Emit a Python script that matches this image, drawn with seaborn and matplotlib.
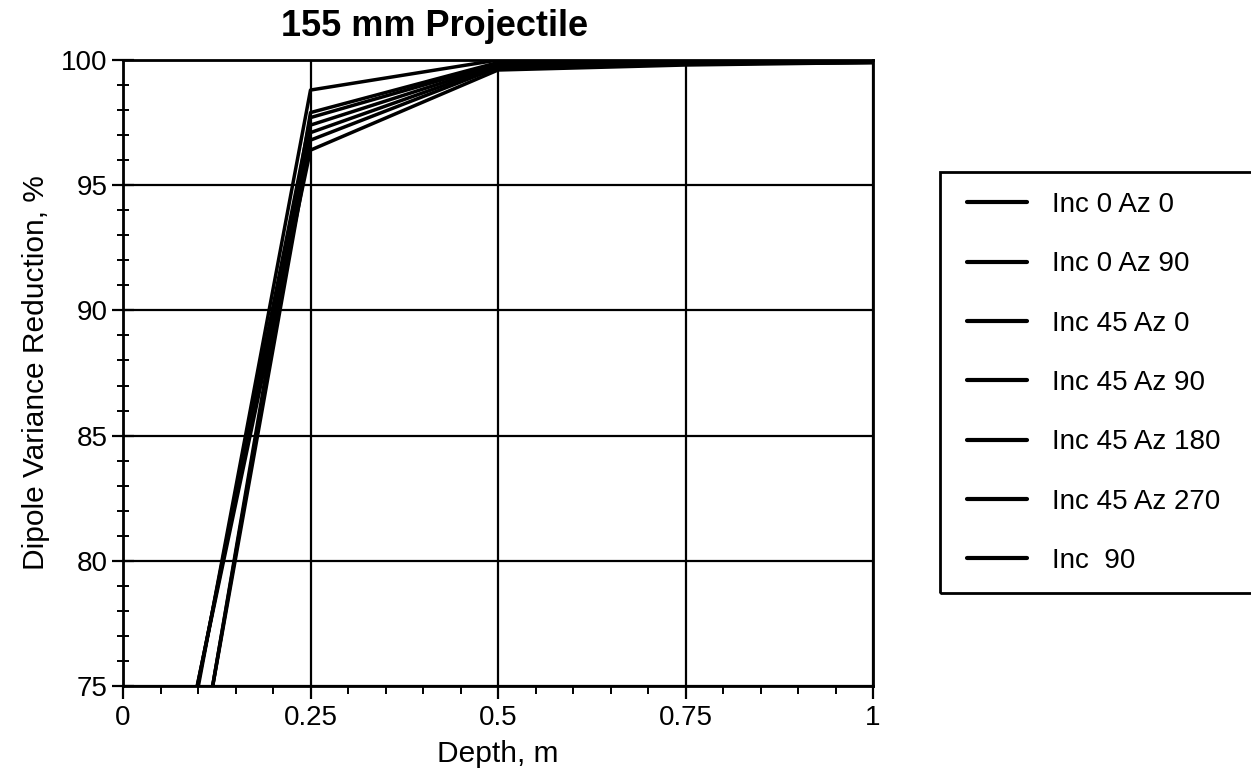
import matplotlib
matplotlib.use("Agg")
import matplotlib.pyplot as plt
import seaborn as sns
import pandas as pd
from matplotlib.patches import Rectangle
from matplotlib.ticker import MultipleLocator

# Depth samples (m) and dipole variance reduction (%) for each orientation
depth = [0.0, 0.25, 0.5, 0.75, 1.0]
series_names = ["Inc 0 Az 0", "Inc 0 Az 90", "Inc 45 Az 0", "Inc 45 Az 90",
                "Inc 45 Az 180", "Inc 45 Az 270", "Inc  90"]
inc0_az0 = [60.0, 97.7, 99.85, 99.9, 99.95]
inc0_az90 = [54.0, 97.9, 99.9, 99.95, 100.0]
inc45_az0 = [60.5, 97.1, 99.75, 99.85, 99.9]
inc45_az90 = [54.5, 97.4, 99.8, 99.9, 99.95]
inc45_az180 = [61.0, 96.4, 99.6, 99.8, 99.9]
inc45_az270 = [55.0, 96.8, 99.7, 99.85, 99.9]
inc90 = [59.0, 98.8, 100.0, 100.0, 100.0]

values = [inc0_az0, inc0_az90, inc45_az0, inc45_az90,
          inc45_az180, inc45_az270, inc90]

frames = [pd.DataFrame({"Depth": depth, "Reduction": v, "Orientation": n})
          for n, v in zip(series_names, values)]
df = pd.concat(frames, ignore_index=True)

sns.set_theme(style="white")
plt.rcParams["font.family"] = ["Liberation Sans", "DejaVu Sans"]
plt.rcParams["text.color"] = "black"
plt.rcParams["axes.labelcolor"] = "black"
plt.rcParams["xtick.color"] = "black"
plt.rcParams["ytick.color"] = "black"

fig = plt.figure(figsize=(12.51, 7.72), dpi=100)
ax = fig.add_axes([123 / 1251, 1 - 686 / 772, 750 / 1251, 626 / 772])

sns.lineplot(data=df, x="Depth", y="Reduction", hue="Orientation",
             hue_order=series_names, palette=["black"] * len(series_names),
             linewidth=2.5, ax=ax, sort=False, estimator=None)

ax.set_xlim(0, 1)
ax.set_ylim(75, 100)
ax.xaxis.set_major_locator(MultipleLocator(0.25))
ax.xaxis.set_minor_locator(MultipleLocator(0.05))
ax.yaxis.set_major_locator(MultipleLocator(5))
ax.yaxis.set_minor_locator(MultipleLocator(1))
ax.set_xticks([0, 0.25, 0.5, 0.75, 1.0])
ax.set_xticklabels(["0", "0.25", "0.5", "0.75", "1"])

ax.grid(True, which="major", color="black", linewidth=1.6)
for sp in ax.spines.values():
    sp.set_color("black")
    sp.set_linewidth(2)

ax.tick_params(axis="x", which="major", direction="out", length=9, width=1.6,
               labelsize=20, pad=5, bottom=True)
ax.tick_params(axis="x", which="minor", direction="out", length=6, width=1.4,
               bottom=True)
ax.tick_params(axis="y", which="major", direction="inout", length=16, width=1.6,
               labelsize=20, pad=3, left=True)
ax.tick_params(axis="y", which="minor", direction="inout", length=9, width=1.4,
               left=True)

ax.set_xlabel("Depth, m", fontsize=21.5, labelpad=6)
ax.set_ylabel("Dipole Variance Reduction, %", fontsize=21.5, labelpad=8)

fig.text(435 / 1251, 1 - 26 / 772, "155 mm Projectile", fontsize=26,
         fontweight="bold", ha="center", va="center")

# Legend: boxed panel on the right running off the figure edge
handles, labels = ax.get_legend_handles_labels()
ax.get_legend().remove()
leg = fig.legend(handles, labels, loc="upper left",
                 bbox_to_anchor=(942 / 1251, 1 - 167 / 772),
                 frameon=False, fontsize=20, handlelength=2.15,
                 handletextpad=0.9, labelspacing=1.2)
for h in leg.legend_handles:
    h.set_linewidth(3)
fig.patches.append(Rectangle((940 / 1251, 1 - 593 / 772), 330 / 1251,
                             (593 - 172) / 772, transform=fig.transFigure,
                             fill=False, edgecolor="black", linewidth=2))

fig.savefig("out.png", dpi=100)
